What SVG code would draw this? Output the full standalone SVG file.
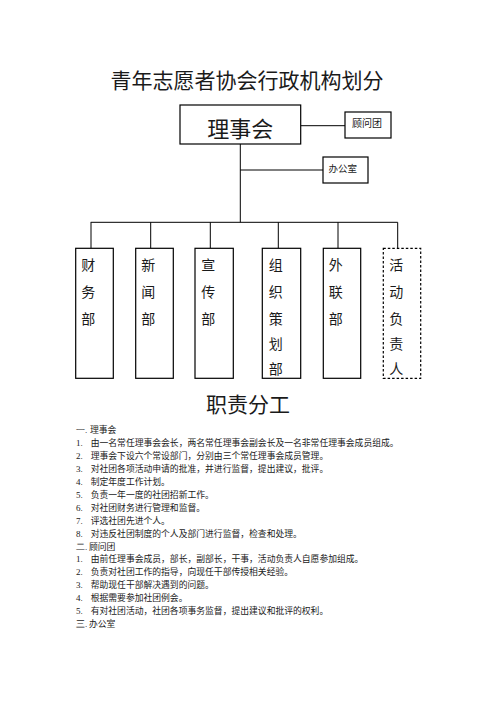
<svg xmlns="http://www.w3.org/2000/svg" width="496" height="702" viewBox="0 0 496 702">
<style>
.cjk{font-family:"Noto Sans CJK SC","Liberation Serif",sans-serif;fill:#1a1a1a}
.box{fill:#fff;stroke:#000;stroke-width:1.2}
.dash{fill:#fff;stroke:#000;stroke-width:1.2;stroke-dasharray:2.5,2}
.ln{stroke:#000;stroke-width:1;fill:none}
.dept{font-size:14px}
.body{font-size:8.8px}
.num{font-family:"Liberation Serif",serif;font-size:9px;fill:#1a1a1a}
</style>
<rect width="496" height="702" fill="#fff"/>
<text class="cjk" x="247" y="87.5" font-size="21" text-anchor="middle">青年志愿者协会行政机构划分</text>

<g id="connectors">
<line class="ln" x1="300.7" y1="125.7" x2="345" y2="125.7"/>
<line class="ln" x1="240.3" y1="144" x2="240.3" y2="222.3"/>
<line class="ln" x1="240.3" y1="170" x2="323" y2="170"/>
<line class="ln" x1="90.7" y1="222.3" x2="397.7" y2="222.3"/>
<line class="ln" x1="91" y1="222.3" x2="91" y2="248.3"/>
<line class="ln" x1="150.7" y1="222.3" x2="150.7" y2="248.3"/>
<line class="ln" x1="210.3" y1="222.3" x2="210.3" y2="248.3"/>
<line class="ln" x1="278.3" y1="222.3" x2="278.3" y2="248.3"/>
<line class="ln" x1="338" y1="222.3" x2="338" y2="248.3"/>
<line class="ln" x1="397.7" y1="222.3" x2="397.7" y2="248.3"/>
</g>

<g id="lishihui">
<rect class="box" x="180" y="105" width="120.7" height="39"/>
<text class="cjk" x="240.3" y="137" font-size="22" text-anchor="middle">理事会</text>
</g>
<g id="guwentuan">
<rect class="box" x="345" y="112" width="46" height="26"/>
<text class="cjk" x="352" y="126.5" font-size="10">顾问团</text>
</g>
<g id="bangongshi">
<rect class="box" x="323" y="157" width="45" height="26"/>
<text class="cjk" x="328.5" y="171.5" font-size="9.5">办公室</text>
</g>

<g id="caiwubu">
<rect class="box" x="75.7" y="248.3" width="37.6" height="130"/>
<text class="cjk dept" x="81.2" y="270.3">财</text>
<text class="cjk dept" x="81.2" y="297">务</text>
<text class="cjk dept" x="81.2" y="323.6">部</text>
</g>
<g id="xinwenbu">
<rect class="box" x="135.7" y="248.3" width="37.6" height="130"/>
<text class="cjk dept" x="141.2" y="270.3">新</text>
<text class="cjk dept" x="141.2" y="297">闻</text>
<text class="cjk dept" x="141.2" y="323.6">部</text>
</g>
<g id="xuanchuanbu">
<rect class="box" x="195" y="248.3" width="38.3" height="130"/>
<text class="cjk dept" x="201.2" y="270.3">宣</text>
<text class="cjk dept" x="201.2" y="297">传</text>
<text class="cjk dept" x="201.2" y="323.6">部</text>
</g>
<g id="zuzhicehuabu">
<rect class="box" x="262.3" y="248.3" width="38.4" height="130"/>
<text class="cjk dept" x="268.8" y="270.3">组</text>
<text class="cjk dept" x="268.8" y="297">织</text>
<text class="cjk dept" x="268.8" y="323.6">策</text>
<text class="cjk dept" x="268.8" y="349.3">划</text>
<text class="cjk dept" x="268.8" y="374.3">部</text>
</g>
<g id="wailianbu">
<rect class="box" x="323.3" y="248.3" width="37.4" height="130"/>
<text class="cjk dept" x="328.8" y="270.3">外</text>
<text class="cjk dept" x="328.8" y="297">联</text>
<text class="cjk dept" x="328.8" y="323.6">部</text>
</g>
<g id="huodongfuzeren">
<rect class="dash" x="383.3" y="248.3" width="37.4" height="130"/>
<text class="cjk dept" x="389.2" y="270.3">活</text>
<text class="cjk dept" x="389.2" y="297">动</text>
<text class="cjk dept" x="389.2" y="323.6">负</text>
<text class="cjk dept" x="389.2" y="349.3">责</text>
<text class="cjk dept" x="389.2" y="374.3">人</text>
</g>

<text class="cjk" x="248" y="412" font-size="21" text-anchor="middle">职责分工</text>

<g id="body">
<text class="num" x="76" y="433.4">一.</text><text class="cjk body" x="90" y="433.4">理事会</text>
<text class="num" x="76" y="446.3">1.</text><text class="cjk body" x="90.7" y="446.3">由一名常任理事会会长，两名常任理事会副会长及一名非常任理事会成员组成。</text>
<text class="num" x="76" y="459.2">2.</text><text class="cjk body" x="90.7" y="459.2">理事会下设六个常设部门，分别由三个常任理事会成员管理。</text>
<text class="num" x="76" y="472.1">3.</text><text class="cjk body" x="90.7" y="472.1">对社团各项活动申请的批准，并进行监督，提出建议，批评。</text>
<text class="num" x="76" y="485">4.</text><text class="cjk body" x="90.7" y="485">制定年度工作计划。</text>
<text class="num" x="76" y="497.9">5.</text><text class="cjk body" x="90.7" y="497.9">负责一年一度的社团招新工作。</text>
<text class="num" x="76" y="510.8">6.</text><text class="cjk body" x="90.7" y="510.8">对社团财务进行管理和监督。</text>
<text class="num" x="76" y="523.7">7.</text><text class="cjk body" x="90.7" y="523.7">评选社团先进个人。</text>
<text class="num" x="76" y="536.6">8.</text><text class="cjk body" x="90.7" y="536.6">对违反社团制度的个人及部门进行监督，检查和处理。</text>
<text class="num" x="76" y="549.5">二.</text><text class="cjk body" x="89" y="549.5">顾问团</text>
<text class="num" x="76" y="562.4">1.</text><text class="cjk body" x="90.7" y="562.4">由前任理事会成员，部长，副部长，干事，活动负责人自愿参加组成。</text>
<text class="num" x="76" y="575.3">2.</text><text class="cjk body" x="90.7" y="575.3">负责对社团工作的指导，向现任干部传授相关经验。</text>
<text class="num" x="76" y="588.2">3.</text><text class="cjk body" x="90.7" y="588.2">帮助现任干部解决遇到的问题。</text>
<text class="num" x="76" y="601.1">4.</text><text class="cjk body" x="90.7" y="601.1">根据需要参加社团例会。</text>
<text class="num" x="76" y="614">5.</text><text class="cjk body" x="90.7" y="614">有对社团活动，社团各项事务监督，提出建议和批评的权利。</text>
<text class="num" x="76" y="626.9">三.</text><text class="cjk body" x="89" y="626.9">办公室</text>
</g>
</svg>
